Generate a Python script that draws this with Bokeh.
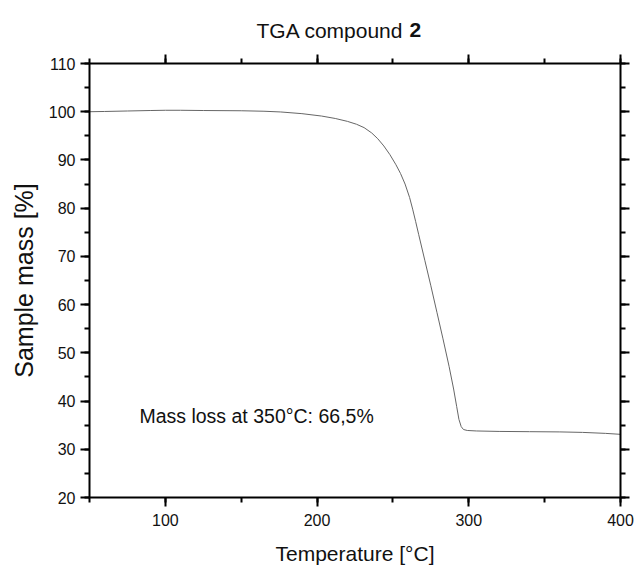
from bokeh.plotting import figure
from bokeh.models import LinearAxis, Label, SingleIntervalTicker, Range1d
from bokeh.layouts import column
from bokeh.core.properties import value
from bokeh.embed import file_html
from bokeh.resources import INLINE

# --- data ---
temperature = [50, 60, 75, 90, 100, 110, 125, 150, 165, 176, 190, 203, 212, 220,
               226, 231, 236, 240, 244, 248, 252, 255, 258, 261, 263, 265, 267,
               271, 275, 279, 283, 287, 290, 292, 293.5, 295, 296.5, 299, 305,
               320, 340, 360, 375, 390, 400]
mass = [100.0, 100.05, 100.15, 100.25, 100.3, 100.3, 100.25, 100.2, 100.1, 99.95,
        99.6, 99.1, 98.6, 98.0, 97.4, 96.7, 95.6, 94.4, 92.9, 91.1, 89.0, 87.2,
        85.0, 82.2, 79.8, 77.2, 74.5, 69.2, 63.9, 58.4, 52.9, 47.2, 42.5, 38.9,
        36.2, 34.7, 34.1, 33.9, 33.8, 33.7, 33.65, 33.6, 33.5, 33.3, 33.1]

x_range = (50, 400)
y_range = (20, 110)
title_main = ["TGA compound"]
title_bold = ["2"]
x_label = "Temperature [°C]"
y_label = "Sample mass [%]"
note = "Mass loss at 350°C: 66,5%"

FONT = "Liberation Sans"
TXT = "#111111"
W = 637
H_TITLE = 45
H_MAIN = 570 - H_TITLE

# ---- title strip (its frame is aligned with the main plot's frame) ----
t = figure(width=W, height=H_TITLE, output_backend="svg", toolbar_location=None,
           x_range=Range1d(*x_range), y_range=Range1d(H_TITLE, 0), title=None,
           x_axis_location=None, y_axis_location=None,
           min_border=0, min_border_left=0, min_border_right=0,
           min_border_top=0, min_border_bottom=0)
t.outline_line_color = None
t.xgrid.visible = False
t.ygrid.visible = False
t.text(x=[160.1], y=[29.5], text=title_main, text_align="left",
       text_baseline="alphabetic", text_font=value(FONT),
       text_font_size="21px", text_color=TXT)
t.text(x=[260.9], y=[29.5], text=title_bold, text_align="left",
       text_baseline="alphabetic", text_font=value(FONT),
       text_font_size="21px", text_font_style="bold", text_color=TXT)

# ---- main plot ----
p = figure(width=W, height=H_MAIN, output_backend="svg", toolbar_location=None,
           x_range=Range1d(*x_range), y_range=Range1d(*y_range), title=None,
           x_axis_location=None, y_axis_location=None,
           min_border_left=89, min_border_right=17,
           min_border_top=63 - H_TITLE, min_border_bottom=73)
p.outline_line_color = None
p.xgrid.visible = False
p.ygrid.visible = False

def style(ax, labels=True):
    ax.axis_line_width = 2
    ax.axis_line_color = "black"
    ax.major_tick_out = 9
    ax.major_tick_in = 0
    ax.minor_tick_out = 5
    ax.minor_tick_in = 0
    ax.major_tick_line_width = 2
    ax.minor_tick_line_width = 2
    ax.major_tick_line_color = "black"
    ax.minor_tick_line_color = "black"
    ax.major_label_text_font = FONT
    if labels:
        ax.major_label_text_font_size = "16px"
        ax.major_label_text_color = TXT
    else:
        ax.major_label_text_font_size = "0px"
        ax.major_label_text_color = None
        ax.major_label_standoff = 0
    ax.axis_label_text_font = FONT
    ax.axis_label_text_font_style = "normal"
    ax.axis_label_text_color = TXT

xb = LinearAxis(ticker=SingleIntervalTicker(interval=100, num_minor_ticks=2))
style(xb)
xb.major_label_standoff = 7
xb.axis_label = x_label
xb.axis_label_text_font_size = "21px"
xb.axis_label_standoff = 13
p.add_layout(xb, "below")

xt = LinearAxis(ticker=SingleIntervalTicker(interval=100, num_minor_ticks=2))
style(xt, labels=False)
p.add_layout(xt, "above")

yl = LinearAxis(ticker=SingleIntervalTicker(interval=10, num_minor_ticks=2))
style(yl)
yl.major_label_standoff = 5
yl.axis_label = y_label
yl.axis_label_text_font_size = "25px"
yl.axis_label_standoff = 8
p.add_layout(yl, "left")

yr = LinearAxis(ticker=SingleIntervalTicker(interval=10, num_minor_ticks=2))
style(yr, labels=False)
p.add_layout(yr, "right")

p.line(temperature, mass, line_color="#666666", line_width=1)

p.add_layout(Label(x=82.9, y=37.0, text=note, text_align="left",
                   text_baseline="alphabetic", text_font=FONT,
                   text_font_size="19.5px", text_color=TXT))

layout = column(t, p, spacing=0)
open("out.html", "w").write(file_html(layout, INLINE))
